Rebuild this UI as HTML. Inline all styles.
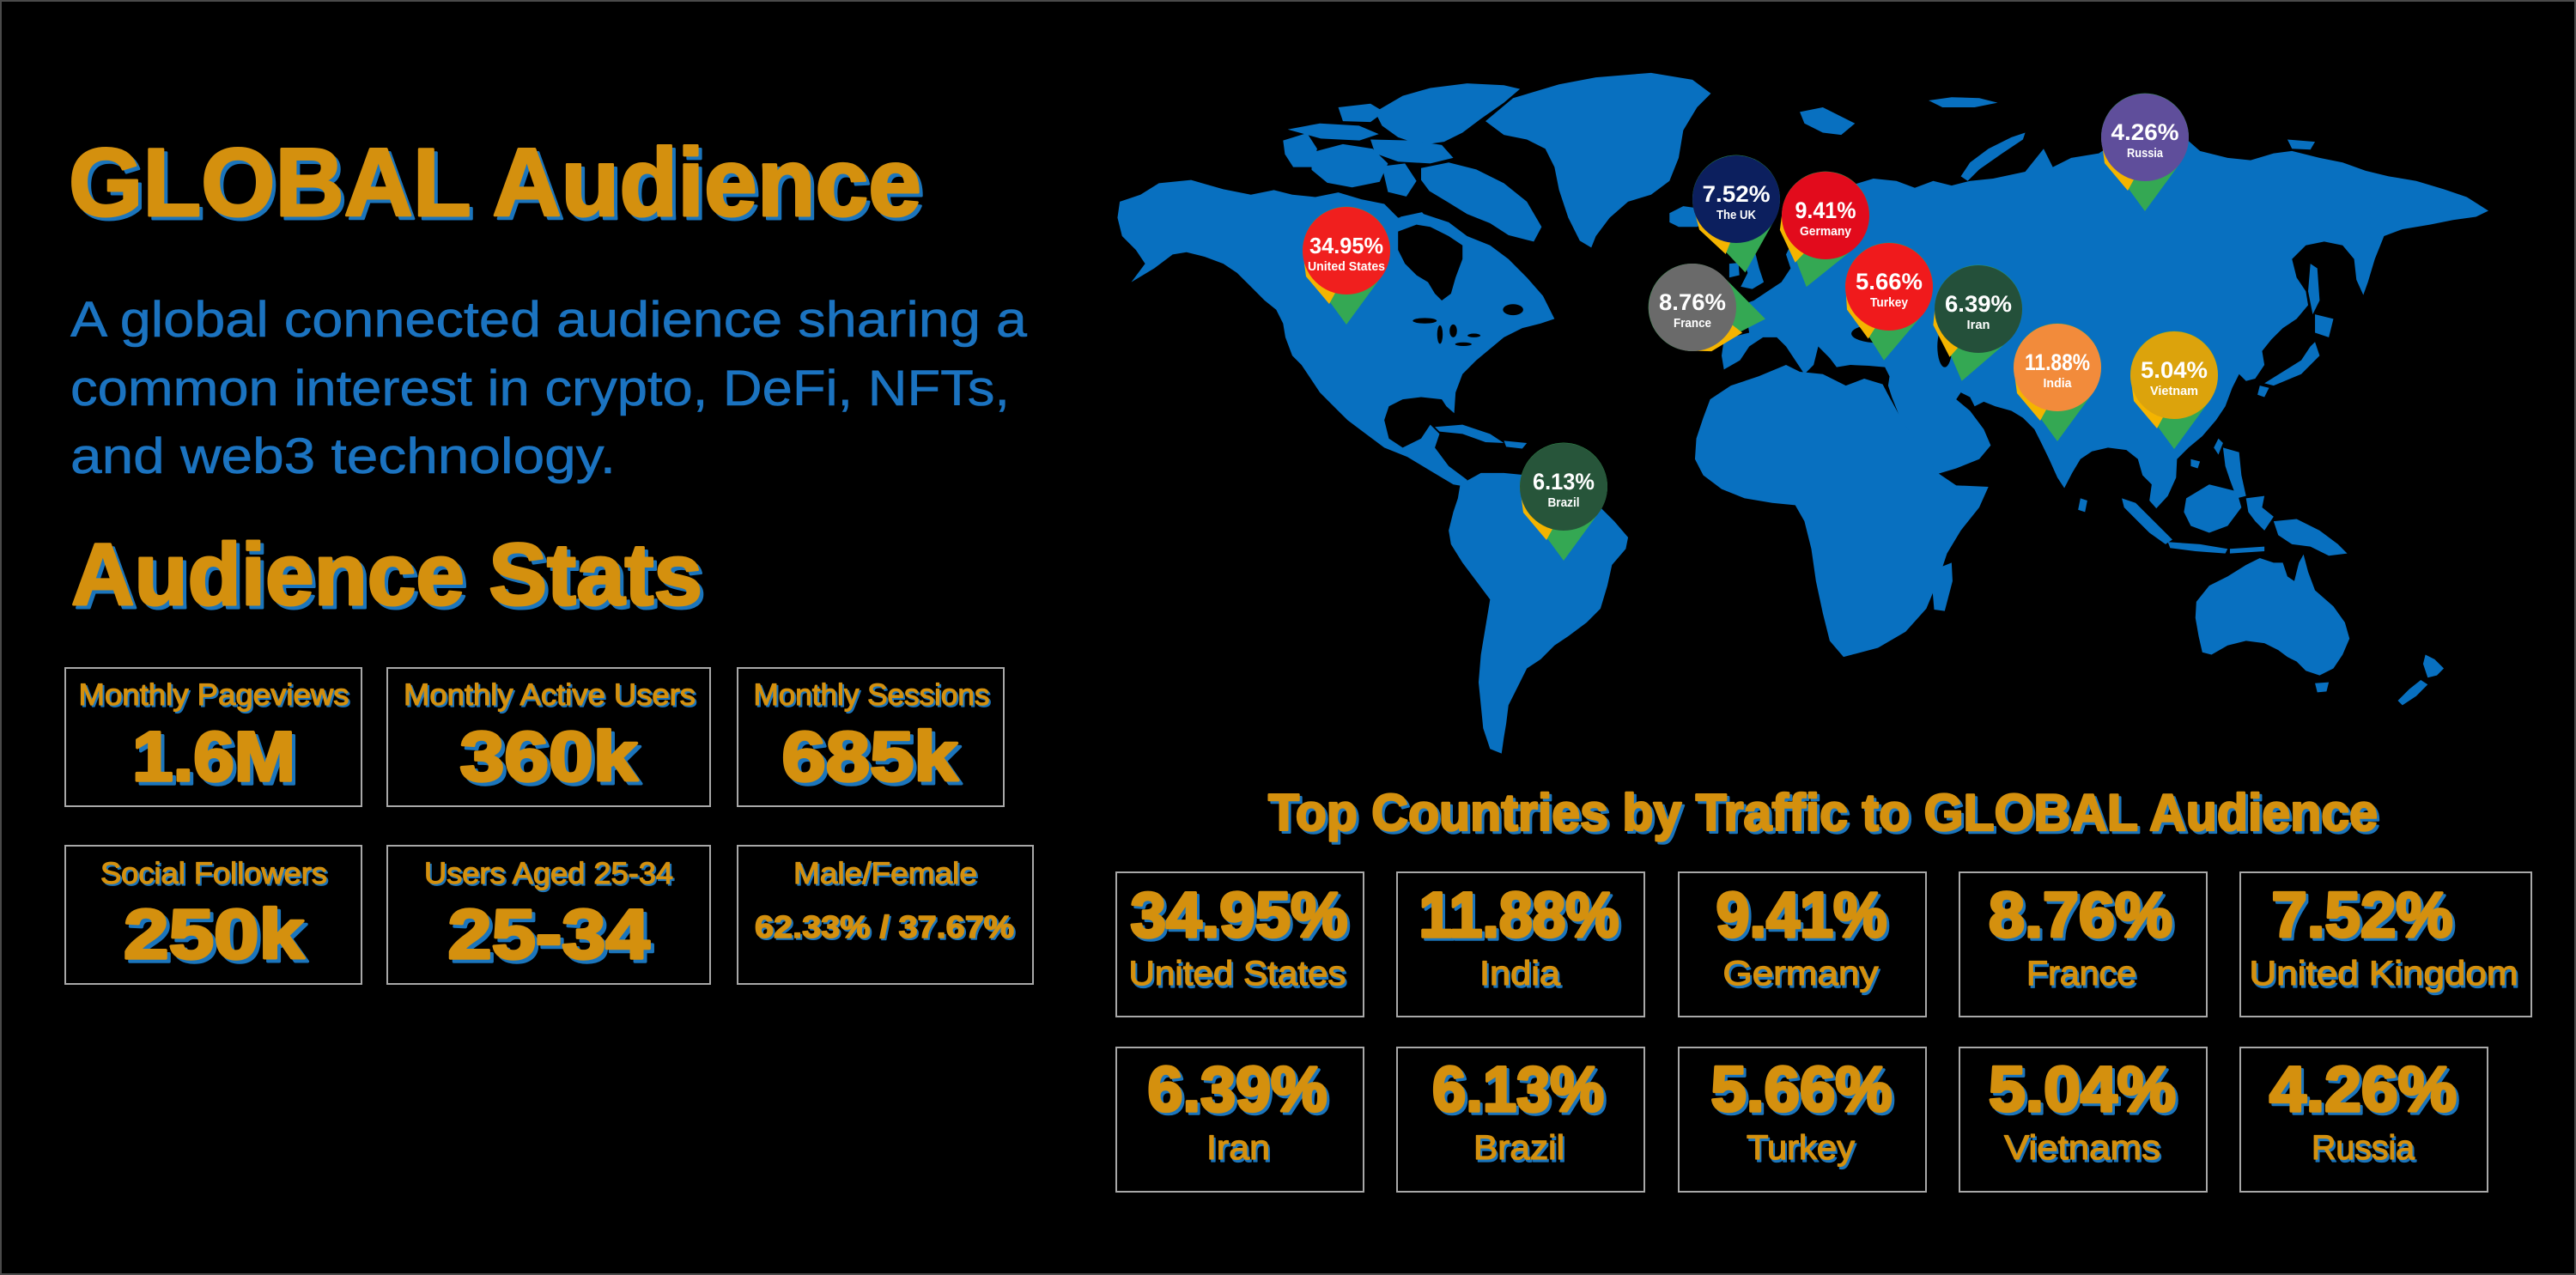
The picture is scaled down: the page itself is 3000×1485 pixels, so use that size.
<!DOCTYPE html>
<html><head><meta charset="utf-8"><style>html,body{margin:0;padding:0;background:#000}svg{display:block}</style></head>
<body>
<svg width="3000" height="1485" viewBox="0 0 3000 1485" xmlns="http://www.w3.org/2000/svg" font-family="'Liberation Sans', sans-serif">
<rect width="3000" height="1485" fill="#000"/>
<rect x="1" y="1" width="2998" height="1483" fill="none" stroke="#4a4a4a" stroke-width="2"/>

<!-- ===== MAP: Americas / Greenland / W Europe (zoom5 coords) ===== -->
<g transform="translate(1280,50) scale(0.5357)" fill="#0870C0">
  <path d="M40,380 L45,345 L90,330 L130,305 L200,298 L270,318 L330,330 L380,320 L420,330 L470,335 L520,325 L570,340 L620,350 L650,380 L700,370 L760,390 L800,420 L850,440 L890,470 L930,510 L965,550 L990,600 L960,610 L920,620 L880,640 L850,665 L820,690 L790,720 L775,760 L772,805 L755,790 L745,775 L700,770 L660,775 L630,790 L620,820 L630,860 L660,880 L700,860 L720,830 L740,850 L730,880 L760,920 L800,950 L800,965 L770,960 L720,930 L670,900 L620,880 L580,850 L540,820 L510,790 L480,760 L460,730 L440,700 L420,680 L405,640 L400,610 L385,580 L360,560 L330,530 L300,500 L270,480 L230,465 L190,455 L160,460 L120,490 L70,520 L100,480 L80,450 L50,420 Z"/>
  <!-- Arctic archipelago -->
  <path d="M600,150 L660,115 L720,98 L800,88 L880,92 L915,100 L880,130 L830,165 L790,195 L750,215 L700,222 L650,205 L615,180 Z"/>
  <path d="M590,210 L680,212 L745,222 L770,250 L720,262 L650,258 L600,240 Z"/>
  <path d="M700,272 L760,260 L820,275 L880,305 L930,345 L962,400 L945,432 L890,418 L850,392 L800,372 L758,346 L718,322 L700,298 Z"/>
  <path d="M462,238 L530,220 L595,230 L628,262 L610,302 L550,314 L496,304 L462,276 Z"/>
  <path d="M400,212 L452,196 L474,230 L464,270 L422,270 L404,242 Z"/>
  <path d="M410,188 L480,175 L565,180 L608,198 L566,212 L482,208 Z"/>
  <path d="M615,268 L665,262 L690,300 L668,334 L628,324 Z"/>
  <path d="M520,140 L590,132 L620,150 L590,172 L530,170 Z"/>
  <path d="M655,378 L702,368 L725,394 L692,412 L662,402 Z"/>
  <!-- Greenland -->
  <path d="M840,170 L900,120 L1000,90 L1080,75 L1200,65 L1290,80 L1330,110 L1300,140 L1270,190 L1260,250 L1240,300 L1200,330 L1150,345 L1110,380 L1080,420 L1070,445 L1045,430 L1020,380 L1000,320 L990,270 L970,230 L930,210 L880,200 Z"/>
  <!-- Iceland -->
  <path d="M1240,370 L1270,355 L1320,362 L1330,385 L1300,400 L1260,400 L1240,390 Z"/>
  <!-- GB / Ireland -->
  <path d="M1405,445 L1425,450 L1435,490 L1445,520 L1420,535 L1395,530 L1410,500 L1400,470 Z"/>
  <path d="M1370,480 L1390,478 L1392,505 L1370,510 Z"/>
  <!-- Caribbean -->
  <path d="M730,835 L790,830 L850,850 L880,870 L840,868 L790,850 L740,845 Z"/>
  <path d="M880,865 L930,870 L920,882 L885,878 Z"/>
  <!-- South America -->
  <path d="M785,960 L830,935 L880,935 L930,940 L980,955 L1030,975 L1080,1000 L1120,1040 L1150,1075 L1145,1100 L1115,1135 L1105,1180 L1090,1230 L1060,1260 L1020,1290 L990,1310 L960,1340 L930,1360 L910,1400 L890,1440 L885,1480 L880,1510 L875,1545 L850,1535 L835,1490 L830,1440 L825,1390 L830,1330 L840,1270 L850,1210 L820,1170 L790,1130 L765,1090 L760,1060 L770,1020 L780,990 Z"/>
</g>
<g transform="translate(1280,50) scale(0.5357)" fill="#000">
  <path d="M650,410 L690,395 L720,400 L760,420 L790,440 L790,470 L775,510 L765,545 L745,560 L730,545 L715,520 L690,505 L665,480 L650,450 Z"/>
  <ellipse cx="708" cy="604" rx="26" ry="6"/>
  <ellipse cx="741" cy="634" rx="6" ry="20"/>
  <ellipse cx="770" cy="626" rx="8" ry="14"/>
  <ellipse cx="792" cy="655" rx="18" ry="4"/>
  <ellipse cx="815" cy="636" rx="14" ry="4"/>
  <ellipse cx="900" cy="580" rx="22" ry="12"/>
</g>

<!-- ===== MAP: Eurasia / Africa / Oceania (zoom6 coords) ===== -->
<g transform="translate(2080,50) scale(0.5357)" fill="#0870C0">
  <path d="M-135,710 L-140,680 L-135,645 L-100,635 L-80,630 L-85,600 L-110,575 L-70,560 L-40,540 L-10,520 L10,490 L0,460 L20,420 L50,380 L90,340 L140,310 L190,295 L240,300 L280,315 L320,300 L360,310 L400,300 L450,295 L520,280 L560,230 L580,270 L620,250 L680,240 L740,200 L800,175 L860,200 L900,235 L960,250 L1010,255 L1060,240 L1100,235 L1160,250 L1210,260 L1260,278 L1310,290 L1370,300 L1430,318 L1480,335 L1527,365 L1500,378 L1450,385 L1400,395 L1340,405 L1300,420 L1280,470 L1265,520 L1255,548 L1240,515 L1235,470 L1210,440 L1170,432 L1130,440 L1100,470 L1110,510 L1130,540 L1135,570 L1110,600 L1080,620 L1055,645 L1035,670 L1040,700 L1020,730 L1000,735 L985,720 L970,750 L955,790 L935,820 L905,855 L875,880 L850,905 L848,945 L830,985 L805,1012 L790,995 L795,960 L775,940 L765,905 L740,885 L700,880 L665,888 L640,905 L622,935 L605,968 L590,945 L572,905 L555,870 L540,840 L515,815 L490,800 L455,790 L430,780 L410,790 L400,770 L380,760 L370,775 L400,800 L430,840 L445,875 L420,905 L370,925 L320,940 L300,915 L275,870 L250,820 L230,770 L222,745 L225,725 L215,705 L180,702 L140,700 L110,705 L95,685 L70,660 L60,700 L40,720 L20,690 L0,660 L-20,640 L-50,640 L-80,660 L-100,690 Z"/>
  <!-- Africa -->
  <path d="M-165,775 L-120,745 L-60,725 L0,700 L30,715 L80,720 L130,745 L170,730 L210,742 L222,765 L255,825 L295,885 L330,935 L370,962 L440,965 L420,1010 L380,1060 L350,1110 L330,1170 L305,1230 L260,1280 L200,1315 L125,1335 L95,1300 L80,1240 L65,1170 L55,1100 L40,1040 L20,1005 L-30,1000 L-90,990 L-140,970 L-180,940 L-198,905 L-195,860 L-180,815 Z"/>
  <path d="M335,1140 L360,1130 L362,1170 L345,1235 L322,1232 L318,1185 Z"/>
  <!-- Arctic islands -->
  <path d="M30,150 L80,140 L120,160 L150,175 L120,200 L80,195 L40,175 Z"/>
  <path d="M380,290 L400,260 L440,230 L490,205 L520,195 L515,210 L470,240 L420,275 L395,300 Z"/>
  <path d="M310,125 L360,118 L420,120 L460,130 L410,140 L340,140 Z"/>
  <path d="M1090,210 L1150,215 L1140,232 L1100,230 Z"/>
  <!-- East Asia islands -->
  <path d="M1140,480 L1155,490 L1160,560 L1145,590 L1135,540 Z"/>
  <path d="M1150,590 L1190,600 L1180,640 L1150,630 Z"/>
  <path d="M1150,650 L1160,680 L1120,720 L1060,745 L1040,740 L1080,715 L1120,690 L1140,660 Z"/>
  <path d="M1030,745 L1050,750 L1040,770 L1025,765 Z"/>
  <path d="M940,860 L950,870 L940,895 L930,880 Z"/>
  <path d="M950,880 L985,890 L990,940 L1000,985 L980,990 L965,950 L955,920 Z"/>
  <path d="M640,990 L655,995 L650,1020 L635,1015 Z"/>
  <path d="M880,905 L900,910 L895,925 L880,920 Z"/>
  <path d="M730,990 L760,1000 L800,1040 L840,1080 L825,1090 L790,1065 L760,1035 L735,1010 Z"/>
  <path d="M830,1085 L900,1090 L960,1100 L955,1110 L890,1105 L835,1098 Z"/>
  <path d="M870,990 L920,960 L980,975 L990,1010 L960,1050 L920,1065 L880,1050 L865,1020 Z"/>
  <path d="M1000,990 L1040,985 L1035,1010 L1060,1030 L1040,1060 L1020,1040 L1005,1020 Z"/>
  <path d="M1060,1040 L1110,1035 L1160,1060 L1200,1090 L1220,1110 L1180,1115 L1140,1095 L1100,1090 L1070,1070 Z"/>
  <path d="M965,1100 L1040,1095 L1040,1105 L965,1110 Z"/>
  <!-- Australia -->
  <path d="M892,1215 L920,1180 L960,1160 L1000,1135 L1030,1120 L1060,1130 L1080,1130 L1090,1160 L1105,1170 L1115,1130 L1125,1112 L1135,1150 L1150,1190 L1190,1225 L1215,1260 L1225,1295 L1210,1330 L1190,1360 L1160,1375 L1130,1365 L1110,1345 L1090,1335 L1070,1320 L1040,1305 L1000,1300 L960,1310 L925,1330 L905,1325 L897,1290 L890,1250 Z"/>
  <path d="M1150,1392 L1180,1390 L1175,1410 L1155,1412 Z"/>
  <path d="M1390,1330 L1410,1340 L1430,1360 L1415,1375 L1395,1380 L1385,1350 Z"/>
  <path d="M1380,1385 L1395,1395 L1370,1420 L1340,1440 L1330,1430 L1355,1405 Z"/>
</g>
<g transform="translate(2080,50) scale(0.5357)" fill="#000">
  <ellipse cx="200" cy="632" rx="58" ry="20"/>
  <ellipse cx="345" cy="660" rx="16" ry="45"/>
  <path d="M60,470 L100,430 L130,385 L145,395 L120,440 L80,480 Z"/>
</g>

<!-- ===== PINS ===== -->
<g font-weight="bold" fill="#fff" text-anchor="middle">
  <g transform="translate(1568,292)">
    <g><path d="M-41,30 A51 51 0 1 1 41,30 L0,86 Z" fill="#34A853"/><path d="M-51,0 L-47,30 L-20,62 L-8,40 L-20,0 Z" fill="#F4B400"/></g>
    <circle r="51" fill="#F01F1E"/>
    <text y="3" font-size="26" textLength="86" lengthAdjust="spacingAndGlyphs">34.95%</text>
    <text y="23" font-size="15" textLength="90" lengthAdjust="spacingAndGlyphs">United States</text>
  </g>
  <g transform="translate(2022,232)">
    <g transform="rotate(-7)"><path d="M-41,30 A51 51 0 1 1 41,30 L0,86 Z" fill="#34A853"/><path d="M-51,0 L-47,30 L-20,62 L-8,40 L-20,0 Z" fill="#F4B400"/></g>
    <circle r="51" fill="#0C1F5E"/>
    <text y="3" font-size="27" textLength="79" lengthAdjust="spacingAndGlyphs">7.52%</text>
    <text y="23" font-size="15" textLength="46" lengthAdjust="spacingAndGlyphs">The UK</text>
  </g>
  <g transform="translate(2126,251)">
    <g transform="rotate(15)"><path d="M-41,30 A51 51 0 1 1 41,30 L0,86 Z" fill="#34A853"/><path d="M-51,0 L-47,30 L-20,62 L-8,40 L-20,0 Z" fill="#F4B400"/></g>
    <circle r="51" fill="#E20B1C"/>
    <text y="3" font-size="27" textLength="71" lengthAdjust="spacingAndGlyphs">9.41%</text>
    <text y="23" font-size="15" textLength="60" lengthAdjust="spacingAndGlyphs">Germany</text>
  </g>
  <g transform="translate(1971,358)">
    <g transform="rotate(-81)"><path d="M-41,30 A51 51 0 1 1 41,30 L0,86 Z" fill="#34A853"/><path d="M-51,0 L-47,30 L-20,62 L-8,40 L-20,0 Z" fill="#F4B400"/></g>
    <circle r="51" fill="#6A6A6A"/>
    <text y="3" font-size="27" textLength="78" lengthAdjust="spacingAndGlyphs">8.76%</text>
    <text y="23" font-size="15" textLength="44" lengthAdjust="spacingAndGlyphs">France</text>
  </g>
  <g transform="translate(2200,334)">
    <g transform="rotate(4)"><path d="M-41,30 A51 51 0 1 1 41,30 L0,86 Z" fill="#34A853"/><path d="M-51,0 L-47,30 L-20,62 L-8,40 L-20,0 Z" fill="#F4B400"/></g>
    <circle r="51" fill="#F01A1C"/>
    <text y="3" font-size="27" textLength="78" lengthAdjust="spacingAndGlyphs">5.66%</text>
    <text y="23" font-size="15" textLength="44" lengthAdjust="spacingAndGlyphs">Turkey</text>
  </g>
  <g transform="translate(2304,360)">
    <g transform="rotate(13)"><path d="M-41,30 A51 51 0 1 1 41,30 L0,86 Z" fill="#34A853"/><path d="M-51,0 L-47,30 L-20,62 L-8,40 L-20,0 Z" fill="#F4B400"/></g>
    <circle r="51" fill="#24503A"/>
    <text y="3" font-size="27" textLength="78" lengthAdjust="spacingAndGlyphs">6.39%</text>
    <text y="23" font-size="15" textLength="27" lengthAdjust="spacingAndGlyphs">Iran</text>
  </g>
  <g transform="translate(2396,428)">
    <g><path d="M-41,30 A51 51 0 1 1 41,30 L0,86 Z" fill="#34A853"/><path d="M-51,0 L-47,30 L-20,62 L-8,40 L-20,0 Z" fill="#F4B400"/></g>
    <circle r="51" fill="#F28B3B"/>
    <text y="3" font-size="27" textLength="76" lengthAdjust="spacingAndGlyphs">11.88%</text>
    <text y="23" font-size="15" textLength="33" lengthAdjust="spacingAndGlyphs">India</text>
  </g>
  <g transform="translate(2532,437)">
    <g><path d="M-41,30 A51 51 0 1 1 41,30 L0,86 Z" fill="#34A853"/><path d="M-51,0 L-47,30 L-20,62 L-8,40 L-20,0 Z" fill="#F4B400"/></g>
    <circle r="51" fill="#DCA30C"/>
    <text y="3" font-size="27" textLength="78" lengthAdjust="spacingAndGlyphs">5.04%</text>
    <text y="23" font-size="15" textLength="56" lengthAdjust="spacingAndGlyphs">Vietnam</text>
  </g>
  <g transform="translate(2498,160)">
    <g><path d="M-41,30 A51 51 0 1 1 41,30 L0,86 Z" fill="#34A853"/><path d="M-51,0 L-47,30 L-20,62 L-8,40 L-20,0 Z" fill="#F4B400"/></g>
    <circle r="51" fill="#5F4E9B"/>
    <text y="3" font-size="27" textLength="79" lengthAdjust="spacingAndGlyphs">4.26%</text>
    <text y="23" font-size="15" textLength="42" lengthAdjust="spacingAndGlyphs">Russia</text>
  </g>
  <g transform="translate(1821,567)">
    <g><path d="M-41,30 A51 51 0 1 1 41,30 L0,86 Z" fill="#34A853"/><path d="M-51,0 L-47,30 L-20,62 L-8,40 L-20,0 Z" fill="#F4B400"/></g>
    <circle r="51" fill="#27553A"/>
    <text y="3" font-size="27" textLength="72" lengthAdjust="spacingAndGlyphs">6.13%</text>
    <text y="23" font-size="15" textLength="37" lengthAdjust="spacingAndGlyphs">Brazil</text>
  </g>
</g>

<!-- ===== LEFT TEXT ===== -->
<g font-weight="bold" stroke-linejoin="round">
  <text x="84" y="255" font-size="112" fill="#1B75BC" stroke="#1B75BC" stroke-width="3" textLength="993" lengthAdjust="spacingAndGlyphs">GLOBAL Audience</text>
  <text x="80" y="251" font-size="112" fill="#D4900E" stroke="#D4900E" stroke-width="3" textLength="993" lengthAdjust="spacingAndGlyphs">GLOBAL Audience</text>
  <text x="87" y="708" font-size="102" fill="#1B75BC" stroke="#1B75BC" stroke-width="3" textLength="735" lengthAdjust="spacingAndGlyphs">Audience Stats</text>
  <text x="83" y="704" font-size="102" fill="#D4900E" stroke="#D4900E" stroke-width="3" textLength="735" lengthAdjust="spacingAndGlyphs">Audience Stats</text>
</g>
<g font-size="58" fill="#1B73C0" stroke="#1B73C0" stroke-width="0.6">
  <text x="82" y="392" textLength="1114" lengthAdjust="spacingAndGlyphs">A global connected audience sharing a</text>
  <text x="82" y="472" textLength="1094" lengthAdjust="spacingAndGlyphs">common interest in crypto, DeFi, NFTs,</text>
  <text x="82" y="551" textLength="635" lengthAdjust="spacingAndGlyphs">and web3 technology.</text>
</g>

<!-- stat boxes -->
<g fill="none" stroke="#a8a8a8" stroke-width="2">
  <rect x="76" y="778" width="345" height="161"/>
  <rect x="451" y="778" width="376" height="161"/>
  <rect x="859" y="778" width="310" height="161"/>
  <rect x="76" y="985" width="345" height="161"/>
  <rect x="451" y="985" width="376" height="161"/>
  <rect x="859" y="985" width="344" height="161"/>
</g>
<g text-anchor="middle" font-size="35" stroke-width="1.2" stroke-linejoin="round">
  <g fill="#1B75BC" stroke="#1B75BC" transform="translate(2,2)">
    <text x="249" y="821" textLength="315" lengthAdjust="spacingAndGlyphs">Monthly Pageviews</text>
    <text x="640" y="821" textLength="340" lengthAdjust="spacingAndGlyphs">Monthly Active Users</text>
    <text x="1015" y="821" textLength="275" lengthAdjust="spacingAndGlyphs">Monthly Sessions</text>
    <text x="249" y="1029" textLength="264" lengthAdjust="spacingAndGlyphs">Social Followers</text>
    <text x="639" y="1029" textLength="290" lengthAdjust="spacingAndGlyphs">Users Aged 25-34</text>
    <text x="1031" y="1029" textLength="214" lengthAdjust="spacingAndGlyphs">Male/Female</text>
  </g>
  <g fill="#D4900E" stroke="#D4900E">
    <text x="249" y="821" textLength="315" lengthAdjust="spacingAndGlyphs">Monthly Pageviews</text>
    <text x="640" y="821" textLength="340" lengthAdjust="spacingAndGlyphs">Monthly Active Users</text>
    <text x="1015" y="821" textLength="275" lengthAdjust="spacingAndGlyphs">Monthly Sessions</text>
    <text x="249" y="1029" textLength="264" lengthAdjust="spacingAndGlyphs">Social Followers</text>
    <text x="639" y="1029" textLength="290" lengthAdjust="spacingAndGlyphs">Users Aged 25-34</text>
    <text x="1031" y="1029" textLength="214" lengthAdjust="spacingAndGlyphs">Male/Female</text>
  </g>
</g>
<g text-anchor="middle" font-weight="bold" font-size="82" stroke-width="3.5" stroke-linejoin="round">
  <g fill="#1B75BC" stroke="#1B75BC" transform="translate(4,4)">
    <text x="249" y="909" textLength="190" lengthAdjust="spacingAndGlyphs">1.6M</text>
    <text x="639" y="909" textLength="207" lengthAdjust="spacingAndGlyphs">360k</text>
    <text x="1013" y="909" textLength="205" lengthAdjust="spacingAndGlyphs">685k</text>
    <text x="249" y="1116" textLength="210" lengthAdjust="spacingAndGlyphs">250k</text>
    <text x="639" y="1116" textLength="235" lengthAdjust="spacingAndGlyphs">25-34</text>
  </g>
  <g fill="#D4900E" stroke="#D4900E">
    <text x="249" y="909" textLength="190" lengthAdjust="spacingAndGlyphs">1.6M</text>
    <text x="639" y="909" textLength="207" lengthAdjust="spacingAndGlyphs">360k</text>
    <text x="1013" y="909" textLength="205" lengthAdjust="spacingAndGlyphs">685k</text>
    <text x="249" y="1116" textLength="210" lengthAdjust="spacingAndGlyphs">250k</text>
    <text x="639" y="1116" textLength="235" lengthAdjust="spacingAndGlyphs">25-34</text>
  </g>
</g>
<g text-anchor="middle" font-weight="bold" font-size="36" stroke-width="1.5" stroke-linejoin="round">
  <text x="1032" y="1094" fill="#1B75BC" stroke="#1B75BC" textLength="302" lengthAdjust="spacingAndGlyphs">62.33% / 37.67%</text>
  <text x="1030" y="1092" fill="#D4900E" stroke="#D4900E" textLength="302" lengthAdjust="spacingAndGlyphs">62.33% / 37.67%</text>
</g>

<!-- ===== RIGHT: Top countries ===== -->
<g font-weight="bold" font-size="60" stroke-width="2.5" stroke-linejoin="round">
  <text x="1480" y="970" fill="#1B75BC" stroke="#1B75BC" textLength="1292" lengthAdjust="spacingAndGlyphs">Top Countries by Traffic to GLOBAL Audience</text>
  <text x="1477" y="967" fill="#D4900E" stroke="#D4900E" textLength="1292" lengthAdjust="spacingAndGlyphs">Top Countries by Traffic to GLOBAL Audience</text>
</g>
<g fill="none" stroke="#a8a8a8" stroke-width="2">
  <rect x="1300" y="1016" width="288" height="168"/>
  <rect x="1627" y="1016" width="288" height="168"/>
  <rect x="1955" y="1016" width="288" height="168"/>
  <rect x="2282" y="1016" width="288" height="168"/>
  <rect x="2609" y="1016" width="339" height="168"/>
  <rect x="1300" y="1220" width="288" height="168"/>
  <rect x="1627" y="1220" width="288" height="168"/>
  <rect x="1955" y="1220" width="288" height="168"/>
  <rect x="2282" y="1220" width="288" height="168"/>
  <rect x="2609" y="1220" width="288" height="168"/>
</g>
<g text-anchor="middle" font-weight="bold" font-size="74" stroke-width="3.5" stroke-linejoin="round">
  <g fill="#1B75BC" stroke="#1B75BC" transform="translate(3,3)">
    <text x="1443" y="1091" textLength="253" lengthAdjust="spacingAndGlyphs">34.95%</text>
    <text x="1769" y="1091" textLength="233" lengthAdjust="spacingAndGlyphs">11.88%</text>
    <text x="2098" y="1091" textLength="199" lengthAdjust="spacingAndGlyphs">9.41%</text>
    <text x="2423" y="1091" textLength="214" lengthAdjust="spacingAndGlyphs">8.76%</text>
    <text x="2751" y="1091" textLength="211" lengthAdjust="spacingAndGlyphs">7.52%</text>
    <text x="1441" y="1294" textLength="209" lengthAdjust="spacingAndGlyphs">6.39%</text>
    <text x="1768" y="1294" textLength="200" lengthAdjust="spacingAndGlyphs">6.13%</text>
    <text x="2098" y="1294" textLength="211" lengthAdjust="spacingAndGlyphs">5.66%</text>
    <text x="2425" y="1294" textLength="218" lengthAdjust="spacingAndGlyphs">5.04%</text>
    <text x="2752" y="1294" textLength="218" lengthAdjust="spacingAndGlyphs">4.26%</text>
  </g>
  <g fill="#D4900E" stroke="#D4900E">
    <text x="1443" y="1091" textLength="253" lengthAdjust="spacingAndGlyphs">34.95%</text>
    <text x="1769" y="1091" textLength="233" lengthAdjust="spacingAndGlyphs">11.88%</text>
    <text x="2098" y="1091" textLength="199" lengthAdjust="spacingAndGlyphs">9.41%</text>
    <text x="2423" y="1091" textLength="214" lengthAdjust="spacingAndGlyphs">8.76%</text>
    <text x="2751" y="1091" textLength="211" lengthAdjust="spacingAndGlyphs">7.52%</text>
    <text x="1441" y="1294" textLength="209" lengthAdjust="spacingAndGlyphs">6.39%</text>
    <text x="1768" y="1294" textLength="200" lengthAdjust="spacingAndGlyphs">6.13%</text>
    <text x="2098" y="1294" textLength="211" lengthAdjust="spacingAndGlyphs">5.66%</text>
    <text x="2425" y="1294" textLength="218" lengthAdjust="spacingAndGlyphs">5.04%</text>
    <text x="2752" y="1294" textLength="218" lengthAdjust="spacingAndGlyphs">4.26%</text>
  </g>
</g>
<g text-anchor="middle" font-size="40" stroke-width="1.3" stroke-linejoin="round">
  <g fill="#1B75BC" stroke="#1B75BC" transform="translate(2,3)">
    <text x="1441" y="1147" textLength="253" lengthAdjust="spacingAndGlyphs">United States</text>
    <text x="1770" y="1147" textLength="94" lengthAdjust="spacingAndGlyphs">India</text>
    <text x="2097" y="1147" textLength="181" lengthAdjust="spacingAndGlyphs">Germany</text>
    <text x="2424" y="1147" textLength="128" lengthAdjust="spacingAndGlyphs">France</text>
    <text x="2776" y="1147" textLength="313" lengthAdjust="spacingAndGlyphs">United Kingdom</text>
    <text x="1442" y="1350" textLength="74" lengthAdjust="spacingAndGlyphs">Iran</text>
    <text x="1769" y="1350" textLength="106" lengthAdjust="spacingAndGlyphs">Brazil</text>
    <text x="2097" y="1350" textLength="126" lengthAdjust="spacingAndGlyphs">Turkey</text>
    <text x="2425" y="1350" textLength="182" lengthAdjust="spacingAndGlyphs">Vietnams</text>
    <text x="2752" y="1350" textLength="120" lengthAdjust="spacingAndGlyphs">Russia</text>
  </g>
  <g fill="#D4900E" stroke="#D4900E">
    <text x="1441" y="1147" textLength="253" lengthAdjust="spacingAndGlyphs">United States</text>
    <text x="1770" y="1147" textLength="94" lengthAdjust="spacingAndGlyphs">India</text>
    <text x="2097" y="1147" textLength="181" lengthAdjust="spacingAndGlyphs">Germany</text>
    <text x="2424" y="1147" textLength="128" lengthAdjust="spacingAndGlyphs">France</text>
    <text x="2776" y="1147" textLength="313" lengthAdjust="spacingAndGlyphs">United Kingdom</text>
    <text x="1442" y="1350" textLength="74" lengthAdjust="spacingAndGlyphs">Iran</text>
    <text x="1769" y="1350" textLength="106" lengthAdjust="spacingAndGlyphs">Brazil</text>
    <text x="2097" y="1350" textLength="126" lengthAdjust="spacingAndGlyphs">Turkey</text>
    <text x="2425" y="1350" textLength="182" lengthAdjust="spacingAndGlyphs">Vietnams</text>
    <text x="2752" y="1350" textLength="120" lengthAdjust="spacingAndGlyphs">Russia</text>
  </g>
</g>
</svg>
</body></html>
